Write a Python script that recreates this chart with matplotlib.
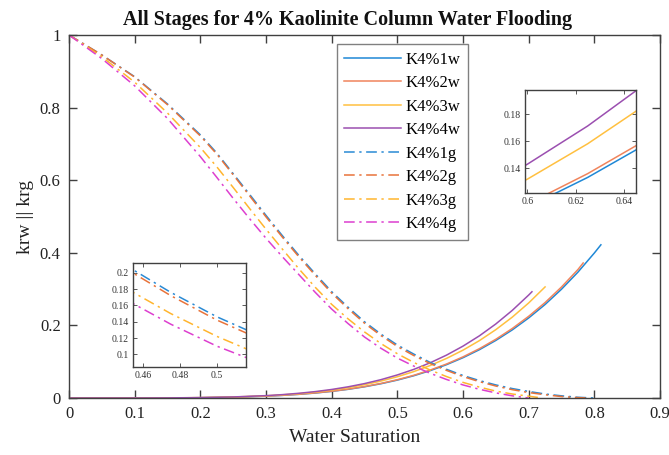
import matplotlib
matplotlib.use("Agg")
import matplotlib.pyplot as plt

plt.rcParams['font.family'] = ['Liberation Serif', 'DejaVu Serif']

# ---- data ----
sw_w1 = [0, 0.05, 0.1, 0.15, 0.2, 0.25, 0.3, 0.325, 0.35, 0.375, 0.4, 0.425, 0.45, 0.475, 0.5, 0.525,
         0.55, 0.575, 0.6, 0.625, 0.65, 0.675, 0.7, 0.725, 0.75, 0.775, 0.8, 0.81]
krw1 = [0, 0, 0, 0.0002, 0.0008, 0.0023, 0.0051, 0.0073, 0.0101, 0.0137, 0.0183, 0.0239, 0.0309, 0.0393,
        0.0493, 0.0613, 0.0754, 0.0919, 0.111, 0.1331, 0.1586, 0.1876, 0.2205, 0.2576, 0.2997, 0.3467,
        0.3994, 0.422]
sw_w2 = [0, 0.05, 0.1, 0.15, 0.2, 0.25, 0.3, 0.325, 0.35, 0.375, 0.4, 0.425, 0.45, 0.475, 0.5, 0.525,
         0.55, 0.575, 0.6, 0.625, 0.65, 0.675, 0.7, 0.725, 0.75, 0.775, 0.783]
krw2 = [0, 0, 0, 0.0002, 0.0009, 0.0023, 0.0052, 0.0074, 0.0103, 0.014, 0.0186, 0.0244, 0.0315, 0.0401,
        0.0503, 0.0625, 0.0769, 0.0937, 0.1133, 0.1359, 0.1618, 0.1914, 0.225, 0.2629, 0.3058, 0.3538,
        0.372]
sw_w3 = [0, 0.05, 0.1, 0.15, 0.2, 0.25, 0.3, 0.325, 0.35, 0.375, 0.4, 0.425, 0.45, 0.475, 0.5, 0.525,
         0.55, 0.575, 0.6, 0.625, 0.65, 0.675, 0.7, 0.725]
krw3 = [0, 0, 0, 0.0003, 0.001, 0.0027, 0.006, 0.0086, 0.012, 0.0163, 0.0217, 0.0284, 0.0366, 0.0466,
        0.0586, 0.0727, 0.0895, 0.1091, 0.1318, 0.1581, 0.1883, 0.2227, 0.2618, 0.306]
sw_w4 = [0, 0.05, 0.1, 0.15, 0.2, 0.25, 0.3, 0.325, 0.35, 0.375, 0.4, 0.425, 0.45, 0.475, 0.5, 0.525,
         0.55, 0.575, 0.6, 0.625, 0.65, 0.675, 0.7, 0.705]
krw4 = [0, 0, 0, 0.0003, 0.0011, 0.0029, 0.0065, 0.0093, 0.013, 0.0176, 0.0235, 0.0308, 0.0397, 0.0505,
        0.0635, 0.0788, 0.097, 0.1182, 0.1429, 0.1713, 0.204, 0.2413, 0.2836, 0.2927]

sw_g = [0, 0.05, 0.1, 0.15, 0.2, 0.225, 0.25, 0.275, 0.3, 0.325, 0.35, 0.375, 0.4, 0.425, 0.45, 0.475,
        0.5, 0.525, 0.55, 0.575, 0.6, 0.625, 0.65, 0.675, 0.7, 0.725, 0.75, 0.775]
krg1 = [1.0, 0.945, 0.885, 0.81, 0.725, 0.675, 0.618, 0.561, 0.503, 0.447, 0.393, 0.342, 0.293, 0.25,
        0.21, 0.176, 0.146, 0.121, 0.098, 0.079, 0.062, 0.048, 0.036, 0.026, 0.018, 0.011, 0.006, 0.002]
krg2 = [1.0, 0.945, 0.884, 0.808, 0.722, 0.672, 0.615, 0.557, 0.499, 0.443, 0.389, 0.338, 0.289, 0.246,
        0.206, 0.172, 0.142, 0.117, 0.095, 0.076, 0.059, 0.045, 0.033, 0.023, 0.015, 0.009, 0.004, 0.001]
krg3 = [1.0, 0.94, 0.87, 0.785, 0.69, 0.637, 0.58, 0.522, 0.465, 0.41, 0.356, 0.305, 0.258, 0.218,
        0.182, 0.15, 0.122, 0.098, 0.077, 0.059, 0.043, 0.03, 0.019, 0.011, 0.005]
krg4 = [1.0, 0.935, 0.86, 0.77, 0.665, 0.608, 0.55, 0.494, 0.44, 0.389, 0.34, 0.291, 0.245, 0.205,
        0.168, 0.137, 0.11, 0.088, 0.068, 0.051, 0.036, 0.024, 0.014, 0.006]
# saturation where each gas curve reaches zero
sw_g_end = [0.8, 0.79, 0.72, 0.7]

labels = ['K4%1w', 'K4%2w', 'K4%3w', 'K4%4w', 'K4%1g', 'K4%2g', 'K4%3g', 'K4%4g']
colors = ['#1f88d6', '#f0845c', '#ffc040', '#9b4fb0', '#2a8ad4', '#e8733a', '#ffb52e', '#dd3fcf']

water = [(sw_w1, krw1), (sw_w2, krw2), (sw_w3, krw3), (sw_w4, krw4)]
gas = []
for k, end in zip([krg1, krg2, krg3, krg4], sw_g_end):
    gas.append((sw_g[:len(k)] + [end], k + [0.0]))

xticks = [0, 0.1, 0.2, 0.3, 0.4, 0.5, 0.6, 0.7, 0.8, 0.9]
xticklabels = ['0', '0.1', '0.2', '0.3', '0.4', '0.5', '0.6', '0.7', '0.8', '0.9']
yticks = [0, 0.2, 0.4, 0.6, 0.8, 1]
yticklabels = ['0', '0.2', '0.4', '0.6', '0.8', '1']

dashdot = (0, (7, 3, 1.5, 3))
axc = '#404040'

fig = plt.figure(figsize=(6.69, 4.55), dpi=100)
ax = fig.add_axes([69/669, 1-398/455, 591/669, 363/455])

for i, (x, y) in enumerate(water):
    ax.plot(x, y, color=colors[i], lw=1.1, label=labels[i])
for i, (x, y) in enumerate(gas):
    ax.plot(x, y, color=colors[4+i], lw=1.1, ls=dashdot, label=labels[4+i])

ax.set_xlim(0, 0.9)
ax.set_ylim(0, 1)
ax.set_xticks(xticks)
ax.set_xticklabels(xticklabels)
ax.set_yticks(yticks)
ax.set_yticklabels(yticklabels)
ax.tick_params(direction='in', length=6, width=1, colors=axc, labelcolor='#222222',
               labelsize=12, top=True, right=True, pad=6)
for s in ax.spines.values():
    s.set_color(axc)
    s.set_linewidth(1)

leg = ax.legend(loc='upper left', bbox_to_anchor=(0.453, 0.975), fontsize=12,
                handlelength=3.4, handletextpad=0.3, labelspacing=0.45,
                borderpad=0.45, frameon=True, fancybox=False, borderaxespad=0)
leg.get_frame().set_edgecolor('#606060')
leg.get_frame().set_linewidth(1)

fig.text(348/669, 1-20/455, 'All Stages for 4% Kaolinite Column Water Flooding',
         ha='center', va='center', fontsize=14.5, fontweight='bold', color='#111111')
fig.text(355/669, 1-438/455, 'Water Saturation', ha='center', va='center',
         fontsize=14, color='#222222')
ax.set_ylabel('krw || krg', fontsize=14, color='#222222', labelpad=4)

# inset 1: water curves
ax1 = fig.add_axes([525/669, 1-193/455, 111/669, 103/455])
for i, (x, y) in enumerate(water):
    ax1.plot(x, y, color=colors[i], lw=1.1)
ax1.set_xlim(0.599, 0.645)
ax1.set_ylim(0.1215, 0.198)
ax1.set_xticks([0.6, 0.62, 0.64])
ax1.set_xticklabels(['0.6', '0.62', '0.64'])
ax1.set_yticks([0.14, 0.16, 0.18])
ax1.set_yticklabels(['0.14', '0.16', '0.18'])

# inset 2: gas curves
ax2 = fig.add_axes([133/669, 1-367/455, 113/669, 104/455])
for i, (x, y) in enumerate(gas):
    ax2.plot(x, y, color=colors[4+i], lw=1.1, ls=dashdot)
ax2.set_xlim(0.4546, 0.5157)
ax2.set_ylim(0.0845, 0.212)
ax2.set_xticks([0.46, 0.48, 0.5])
ax2.set_xticklabels(['0.46', '0.48', '0.5'])
ax2.set_yticks([0.1, 0.12, 0.14, 0.16, 0.18, 0.2])
ax2.set_yticklabels(['0.1', '0.12', '0.14', '0.16', '0.18', '0.2'])

for a in (ax1, ax2):
    a.tick_params(direction='in', length=3, width=0.6, colors=axc, labelcolor='#333333',
                  labelsize=7, top=True, right=True, pad=3)
    for s in a.spines.values():
        s.set_color(axc)
        s.set_linewidth(1)

fig.savefig('out.png', dpi=100)
